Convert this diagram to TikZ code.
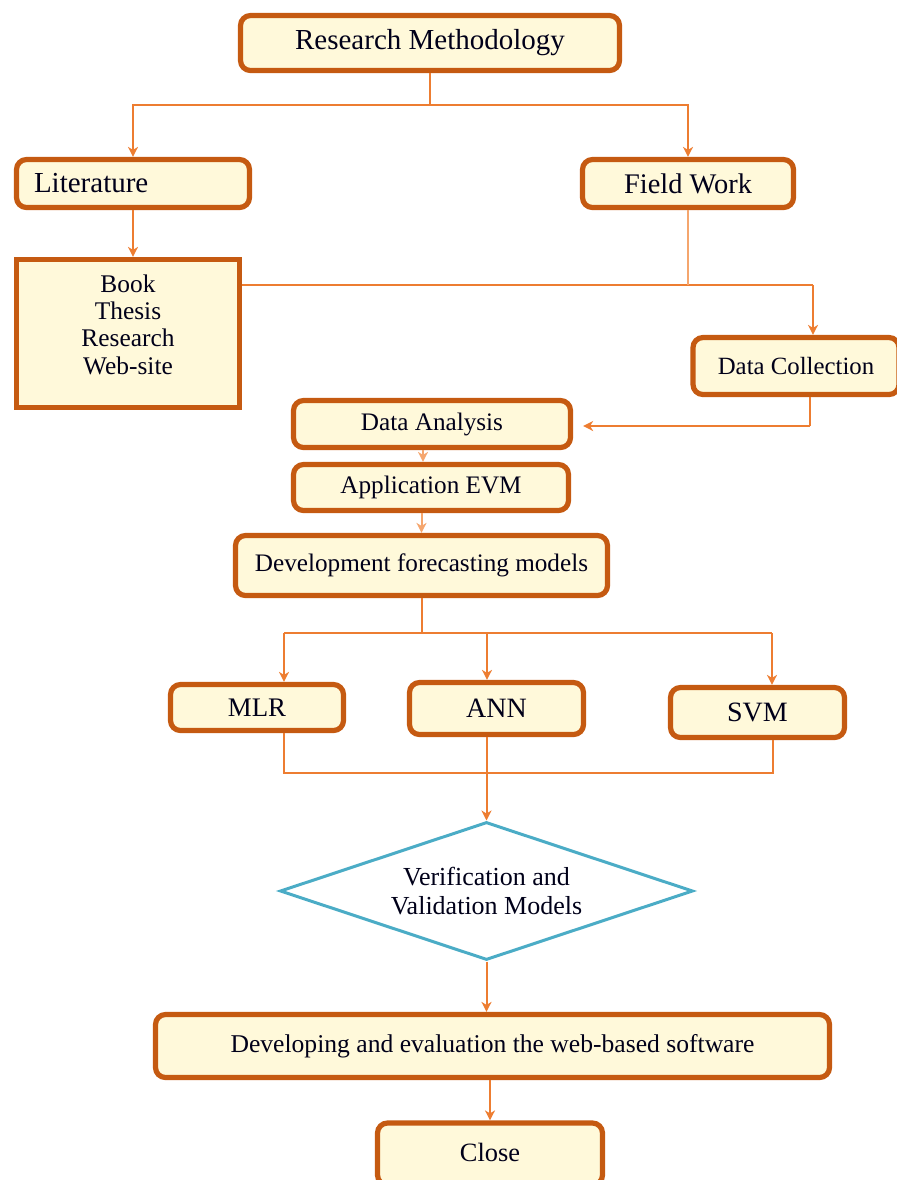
\documentclass[tikz,border=0pt]{standalone}
\usepackage{fontspec}
\setmainfont{Liberation Serif}
\usetikzlibrary{shapes.geometric,arrows.meta}
\definecolor{bord}{HTML}{C55A11}
\definecolor{fillc}{HTML}{FFF9DA}
\definecolor{connc}{HTML}{ED7D31}
\definecolor{connl}{HTML}{F5A66E}
\definecolor{diac}{HTML}{4BACC6}
\begin{document}
\begin{tikzpicture}[x=0.5pt,y=-0.5pt,
  mybox/.style={draw=bord,line width=2.6pt,fill=fillc,rounded corners=5pt,inner sep=0pt,align=center,text=black!90!blue,font=\fontsize{12.6}{14}\selectfont},
  sqbox/.style={mybox,rounded corners=0pt},
  dia/.style={draw=diac,line width=1.5pt,shape=diamond,shape aspect=3,inner sep=0pt,align=center,text=black!90!blue,font=\fontsize{13}{14.5}\selectfont},
  conn/.style={draw=connc,line width=1pt},
  arr/.style={conn,-{Stealth[length=5pt,width=5pt,inset=1.5pt]}},
]
\useasboundingbox (0,0) rectangle (897,1180);

% nodes
\node[mybox,minimum width=189.5pt,minimum height=27.5pt,font=\fontsize{14.5}{16}\selectfont] (rm) at (430,43) {Research Methodology};
\node[mybox,minimum width=116.5pt,minimum height=24pt,inner xsep=8.75pt,text width=99pt,align=left,font=\fontsize{14.5}{16}\selectfont] (lit) at (133,183.5) {Literature};
\node[mybox,minimum width=105.5pt,minimum height=24pt,font=\fontsize{14.2}{16}\selectfont] (fw) at (688,183.5) {Field Work};
\node[sqbox,minimum width=111.5pt,minimum height=74pt,font=\fontsize{12.7}{13.6}\selectfont] (book) at (128,333.5) {Book\\Thesis\\Research\\Web-site\\[-4.6pt]};
\node[mybox,minimum width=103pt,minimum height=28.5pt,font=\fontsize{12.4}{14}\selectfont] (dc) at (796,366) {Data Collection};
\node[mybox,minimum width=138.5pt,minimum height=23.5pt] (da) at (432,424) {Data Analysis};
\node[mybox,minimum width=137.5pt,minimum height=23pt] (ae) at (431,487.5) {Application EVM};
\node[mybox,minimum width=186pt,minimum height=30pt] (dfm) at (421.5,565.5) {Development forecasting models};
\node[mybox,minimum width=86.5pt,minimum height=23pt,font=\fontsize{13.4}{15}\selectfont] (mlr) at (257,707.5) {MLR};
\node[mybox,minimum width=87pt,minimum height=26pt,font=\fontsize{14}{15}\selectfont] (ann) at (496.5,708.5) {ANN};
\node[mybox,minimum width=87pt,minimum height=25pt,font=\fontsize{14}{15}\selectfont] (svm) at (757.5,712.5) {SVM};
\node[dia,minimum width=206.5pt,minimum height=69pt] (vv) at (486.5,891) {Verification and\\Validation Models};
\node[mybox,minimum width=337pt,minimum height=31.5pt,font=\fontsize{12.8}{14}\selectfont] (dev) at (492.5,1046) {Developing and evaluation the web-based software};
\node[mybox,minimum width=112.5pt,minimum height=31pt,font=\fontsize{13.2}{15}\selectfont] (close) at (490,1154) {\raisebox{2pt}{Close}};

% junction coordinates
\coordinate (j1) at (430,105);
\coordinate (j2) at (813,285);
\coordinate (j3) at (810,426);
\coordinate (j4) at (421.5,633);
\coordinate (bL) at (284,633);
\coordinate (bM) at (487,633);
\coordinate (bR) at (772,633);
\coordinate (mL) at (284,773);
\coordinate (mR) at (773,773);

% connectors
\draw[conn] (rm.south) -- (j1);
\draw[arr] (j1) -| (lit.north);
\draw[arr] (j1) -| (fw.north);
\draw[arr] (lit.south) -- (lit.south |- book.north);
\draw[conn] (book.east |- j2) -- (j2);
\draw[conn,draw=connl] (fw.south) -- (fw.south |- j2);
\draw[arr] (j2) -- (j2 |- dc.north);
\draw[conn] (j3 |- dc.south) -- (j3);
\draw[arr,shorten >=5pt] (j3) -- (j3 -| da.east);
\draw[arr,draw=connl] ([xshift=-4.5pt]da.south) -- ([xshift=-4.5pt]da.south |- ae.north);
\draw[arr,draw=connl] (ae.south -| dfm.north) -- (dfm.north);
\draw[conn] (dfm.south) -- (j4);
\draw[conn] (bL) -- (bR);
\draw[arr] (bL) -- (bL |- mlr.north);
\draw[arr] (bM) -- (bM |- ann.north);
\draw[arr] (bR) -- (bR |- svm.north);
\draw[conn] (mL |- mlr.south) -- (mL) -- (mR) -- (mR |- svm.south);
\draw[arr] (vv.north |- ann.south) -- (vv.north);
\draw[arr] (vv.south) -- (vv.south |- dev.north);
\draw[arr] (close.north |- dev.south) -- (close.north);
\end{tikzpicture}
\end{document}
